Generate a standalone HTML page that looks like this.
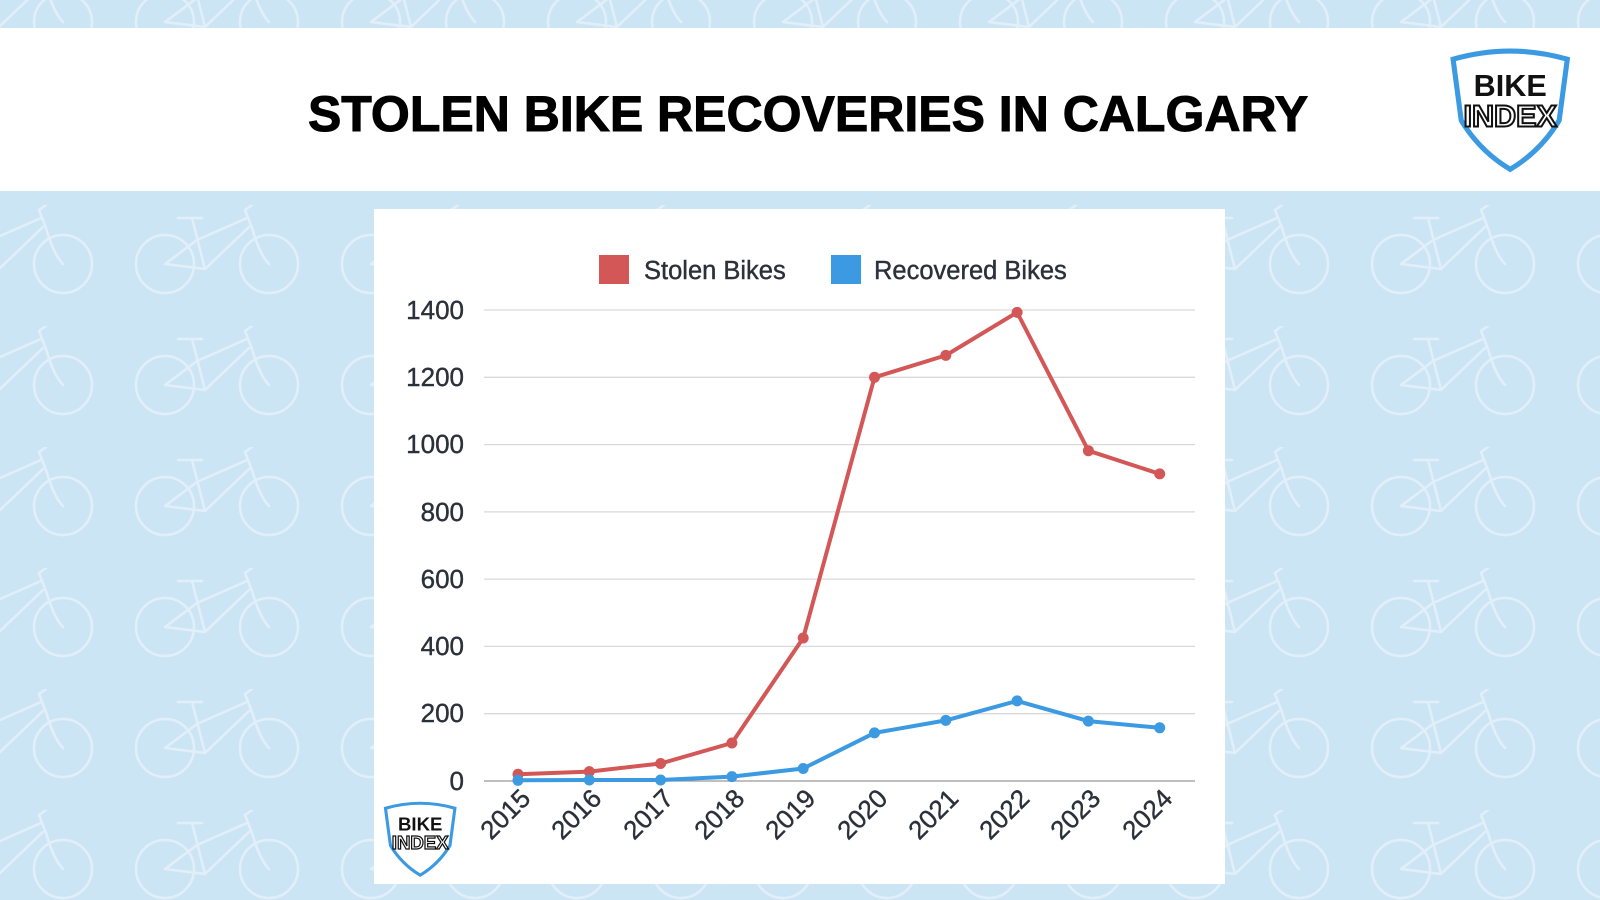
<!DOCTYPE html>
<html><head><meta charset="utf-8"><style>
html,body{margin:0;padding:0;width:1600px;height:900px;overflow:hidden;background:#cce5f5}
svg{display:block}
text{font-family:"Liberation Sans","DejaVu Sans",sans-serif}
</style></head><body>
<svg width="1600" height="900" viewBox="0 0 1600 900" xmlns="http://www.w3.org/2000/svg">
<defs>
<pattern id="bk" patternUnits="userSpaceOnUse" width="206" height="121" x="-60" y="205">
<g fill="none" stroke="#e2eff9" stroke-width="2.5" stroke-linecap="round" stroke-linejoin="round" transform="translate(-144,-210)">
<circle cx="163" cy="269" r="29"/><circle cx="267" cy="269" r="29"/>
<path d="M176 223H200M190 223L203 274L163 269L195 245L245 223M203 274L247 232M243 215L250 233C255 250 260 262 267 269M243 215L250 210L240 203"/>
</g>
<g fill="none" stroke="#e2eff9" stroke-width="2.5" stroke-linecap="round" stroke-linejoin="round" transform="translate(62,-210)">
<circle cx="163" cy="269" r="29"/><circle cx="267" cy="269" r="29"/>
<path d="M176 223H200M190 223L203 274L163 269L195 245L245 223M203 274L247 232M243 215L250 233C255 250 260 262 267 269M243 215L250 210L240 203"/>
</g>
</pattern>
<g id="logo">
<path d="M4 10 Q60 -6 116 10 L108 70 Q90 100 60 118 Q30 100 12 70 Z" fill="#fff" stroke="#3b9ae1" stroke-width="5"/>
<text x="60" y="46" text-anchor="middle" font-size="30" font-weight="bold" fill="#111">BIKE</text>
<text x="60" y="76" text-anchor="middle" font-size="30" font-weight="bold" fill="#fff" stroke="#111" stroke-width="2">INDEX</text>
</g>
</defs>
<rect width="1600" height="900" fill="#cce5f5"/>
<rect width="1600" height="900" fill="url(#bk)"/>
<rect x="0" y="28" width="1600" height="163" fill="#fff"/>
<text x="808" y="131" text-anchor="middle" font-size="50" font-weight="bold" fill="#000" stroke="#000" stroke-width="1">STOLEN BIKE RECOVERIES IN CALGARY</text>
<use href="#logo" transform="translate(1449,49) scale(1.02)"/>
<rect x="374" y="209" width="851" height="675" fill="#fff"/>
<rect x="599" y="255" width="30" height="29" fill="#d35757"/>
<text x="644" y="279" font-size="25.5" fill="#2b303a" stroke="#2b303a" stroke-width="0.4">Stolen Bikes</text>
<rect x="831" y="255" width="30" height="29" fill="#3b9ae1"/>
<text x="874" y="279" font-size="25.5" fill="#2b303a" stroke="#2b303a" stroke-width="0.4">Recovered Bikes</text>
<g stroke="#d9d9d9" stroke-width="1.3">
<line x1="484" x2="1195" y1="310" y2="310"/><line x1="484" x2="1195" y1="377.3" y2="377.3"/>
<line x1="484" x2="1195" y1="444.6" y2="444.6"/><line x1="484" x2="1195" y1="511.9" y2="511.9"/>
<line x1="484" x2="1195" y1="579.1" y2="579.1"/><line x1="484" x2="1195" y1="646.4" y2="646.4"/>
<line x1="484" x2="1195" y1="713.7" y2="713.7"/>
</g>
<line x1="484" x2="1195" y1="781" y2="781" stroke="#999" stroke-width="1.3"/>
<g font-size="26" fill="#2b303a" stroke="#2b303a" stroke-width="0.4" text-anchor="end">
<text x="464" y="319">1400</text><text x="464" y="386">1200</text><text x="464" y="453">1000</text>
<text x="464" y="521">800</text><text x="464" y="588">600</text><text x="464" y="655">400</text>
<text x="464" y="722">200</text><text x="464" y="790">0</text>
</g>
<g font-size="26" fill="#2b303a" stroke="#2b303a" stroke-width="0.4" text-anchor="end">
<text transform="translate(532,800) rotate(-45)">2015</text>
<text transform="translate(603,800) rotate(-45)">2016</text>
<text transform="translate(675,800) rotate(-45)">2017</text>
<text transform="translate(746,800) rotate(-45)">2018</text>
<text transform="translate(817,800) rotate(-45)">2019</text>
<text transform="translate(889,800) rotate(-45)">2020</text>
<text transform="translate(960,800) rotate(-45)">2021</text>
<text transform="translate(1031,800) rotate(-45)">2022</text>
<text transform="translate(1102,800) rotate(-45)">2023</text>
<text transform="translate(1174,800) rotate(-45)">2024</text>
</g>
<polyline fill="none" stroke="#d35757" stroke-width="4" stroke-linejoin="round" points="518,774.3 589.3,771.6 660.6,763.5 731.9,743 803.2,638 874.5,377.3 945.8,355.4 1017.1,312.4 1088.4,450.7 1159.7,473.9"/>
<g fill="#d35757">
<circle cx="518" cy="774.3" r="5.5"/><circle cx="589.3" cy="771.6" r="5.5"/><circle cx="660.6" cy="763.5" r="5.5"/><circle cx="731.9" cy="743" r="5.5"/><circle cx="803.2" cy="638" r="5.5"/><circle cx="874.5" cy="377.3" r="5.5"/><circle cx="945.8" cy="355.4" r="5.5"/><circle cx="1017.1" cy="312.4" r="5.5"/><circle cx="1088.4" cy="450.7" r="5.5"/><circle cx="1159.7" cy="473.9" r="5.5"/>
</g>
<polyline fill="none" stroke="#3b9ae1" stroke-width="4" stroke-linejoin="round" points="518,780.3 589.3,780 660.6,780 731.9,776.6 803.2,768.5 874.5,732.9 945.8,720.4 1017.1,700.9 1088.4,721.1 1159.7,727.8"/>
<g fill="#3b9ae1">
<circle cx="518" cy="780.3" r="5.5"/><circle cx="589.3" cy="780" r="5.5"/><circle cx="660.6" cy="780" r="5.5"/><circle cx="731.9" cy="776.6" r="5.5"/><circle cx="803.2" cy="768.5" r="5.5"/><circle cx="874.5" cy="732.9" r="5.5"/><circle cx="945.8" cy="720.4" r="5.5"/><circle cx="1017.1" cy="700.9" r="5.5"/><circle cx="1088.4" cy="721.1" r="5.5"/><circle cx="1159.7" cy="727.8" r="5.5"/>
</g>
<use href="#logo" transform="translate(383,802) scale(0.62)"/>
</svg>
</body></html>
